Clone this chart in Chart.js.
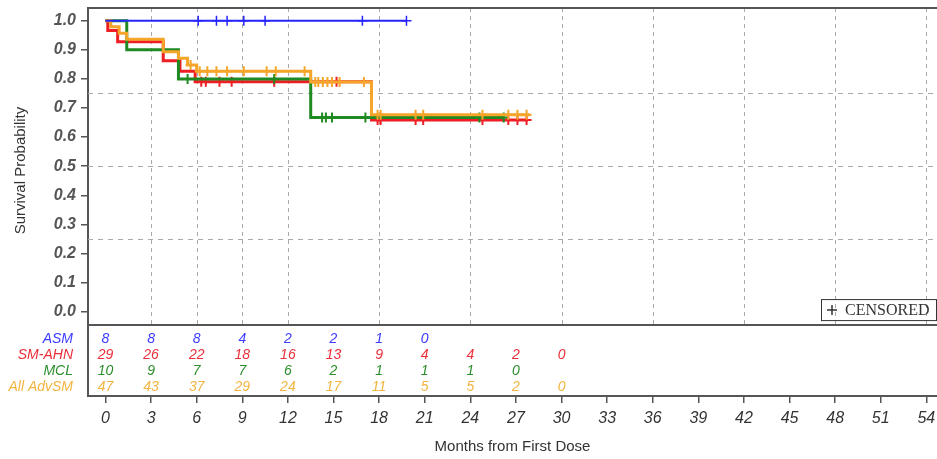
<!DOCTYPE html>
<html>
<head>
<meta charset="utf-8">
<script src="https://cdn.jsdelivr.net/npm/chart.js@4.4.1/dist/chart.umd.min.js"></script>
<style>
  html, body { margin:0; padding:0; background:#fff; }
  #wrap { width:937px; height:459px; }
</style>
</head>
<body>
<div id="wrap"><canvas id="km" width="937" height="459"></canvas></div>
<script>
// KM step curves: month where the estimate changes and the new value
const asmTime = [0, 19.8];
const asmSurv = [1, 1];
const asmCens = [6.1, 7.3, 8.0, 9.1, 10.5, 16.9, 19.8];

const ahnTime = [0, 0.15, 0.8, 3.8, 4.9, 5.9, 17.5, 27.8];
const ahnSurv = [1, 0.966, 0.928, 0.862, 0.826, 0.790, 0.659, 0.659];
const ahnCens = [6.3, 6.6, 7.5, 8.3, 11.1, 15.2, 17.9, 18.1, 20.4, 20.9, 24.8, 26.5, 27.1, 27.7];

const mclTime = [0, 1.4, 4.8, 13.5, 26.2];
const mclSurv = [1, 0.9, 0.8, 0.667, 0.667];
const mclCens = [5.4, 11.1, 14.25, 14.5, 14.9, 17.1, 24.6, 26.2];

const allTime = [0, 0.35, 0.9, 1.4, 3.8, 4.8, 5.4, 6.0, 13.5, 17.5, 27.9];
const allSurv = [1, 0.979, 0.957, 0.936, 0.893, 0.871, 0.848, 0.826, 0.789, 0.677, 0.677];
const allCens = [5.6, 6.2, 6.7, 7.3, 8.0, 9.1, 10.6, 11.2, 13.1, 13.8, 14.0, 14.3, 14.6, 14.9, 15.4, 17.0,
                 17.9, 18.1, 20.4, 20.9, 24.8, 26.5, 27.1, 27.7];

// numbers at risk
const riskTimes = [0, 3, 6, 9, 12, 15, 18, 21, 24, 27, 30];
const riskASM = [8, 8, 8, 4, 2, 2, 1, 0];
const riskAHN = [29, 26, 22, 18, 16, 13, 9, 4, 4, 2, 0];
const riskMCL = [10, 9, 7, 7, 6, 2, 1, 1, 1, 0];
const riskAll = [47, 43, 37, 29, 24, 17, 11, 5, 5, 2, 0];

const xTicks = [0, 3, 6, 9, 12, 15, 18, 21, 24, 27, 30, 33, 36, 39, 42, 45, 48, 51, 54];
const yTicks = [0, 0.1, 0.2, 0.3, 0.4, 0.5, 0.6, 0.7, 0.8, 0.9, 1.0];
const gridX = [3, 6, 9, 12, 18, 24, 30, 36, 42, 48, 54];
const gridY = [0.25, 0.5, 0.75];

const BLUE = '#2424ff', RED = '#ee1e24', GREEN = '#1f8a22', ORANGE = '#f5a52a';
const SANS = "'Liberation Sans', Arial, sans-serif";

const tableTop = -0.046;   // value where the at-risk table starts

function steps(t, s) {
  return t.map((v, i) => ({x: v, y: s[i]}));
}
function valueAt(t, s, x) {
  let v = s[0];
  for (let i = 0; i < t.length; i++) if (t[i] <= x) v = s[i];
  return v;
}
function cens(t, s, c) {
  return c.map(x => ({x: x, y: valueAt(t, s, x)}));
}

function lineDs(data, color, w, ord) {
  return {data: data, showLine: true, stepped: 'before', borderColor: color, borderWidth: w,
          pointRadius: 0, fill: false, order: ord};
}
function censDs(data, color, w, ord) {
  return {data: data, showLine: false, pointStyle: 'cross', pointRadius: 5, borderColor: color,
          backgroundColor: color, pointBorderWidth: w, order: ord};
}

const rows = [
  {name: 'ASM', vals: riskASM, color: '#3b3bff'},
  {name: 'SM-AHN', vals: riskAHN, color: '#ea2f3a'},
  {name: 'MCL', vals: riskMCL, color: '#2b8d2b'},
  {name: 'All AdvSM', vals: riskAll, color: '#f2b440'}
];

const frame = {
  id: 'frame',
  beforeDatasetsDraw(chart) {
    const {ctx, chartArea: a, scales: {x, y}} = chart;
    const sep = y.getPixelForValue(tableTop);
    ctx.save();
    ctx.strokeStyle = '#aaaaaa';
    ctx.lineWidth = 1;
    ctx.setLineDash([4, 4]);
    gridX.forEach(v => {
      const px = Math.round(x.getPixelForValue(v)) + 0.5;
      ctx.beginPath(); ctx.moveTo(px, a.top); ctx.lineTo(px, sep); ctx.stroke();
    });
    ctx.setLineDash([5, 5]);
    gridY.forEach(v => {
      const py = Math.round(y.getPixelForValue(v)) + 0.5;
      ctx.beginPath(); ctx.moveTo(a.left, py); ctx.lineTo(a.right, py); ctx.stroke();
    });
    ctx.restore();
  },
  afterDraw(chart) {
    const {ctx, chartArea: a, scales: {x, y}} = chart;
    const sep = y.getPixelForValue(tableTop);
    ctx.save();
    // box top and table separator
    ctx.strokeStyle = '#555';
    ctx.lineWidth = 2;
    ctx.beginPath(); ctx.moveTo(a.left, a.top); ctx.lineTo(a.right, a.top); ctx.stroke();
    ctx.beginPath(); ctx.moveTo(a.left, sep); ctx.lineTo(a.right, sep); ctx.stroke();

    // at-risk table
    ctx.font = 'italic 14px ' + SANS;
    ctx.textBaseline = 'middle';
    rows.forEach((r, i) => {
      const ry = a.bottom - 9 - (rows.length - 1 - i) * 16;
      ctx.fillStyle = r.color;
      ctx.textAlign = 'right';
      ctx.fillText(r.name, a.left - 15, ry);
      ctx.textAlign = 'center';
      r.vals.forEach((v, j) => ctx.fillText(String(v), x.getPixelForValue(riskTimes[j]), ry));
    });

    // y title, centred on the survival panel
    ctx.save();
    ctx.translate(21, (a.top + sep) / 2 + 4);
    ctx.rotate(-Math.PI / 2);
    ctx.font = '15px ' + SANS;
    ctx.fillStyle = '#333';
    ctx.textAlign = 'center';
    ctx.textBaseline = 'middle';
    ctx.fillText('Survival Probability', 0, 0);
    ctx.restore();

    // censored key
    ctx.font = "16px 'Liberation Serif', 'Times New Roman', serif";
    const bw = 115, bh = 21;
    const bx = a.right - bw - 1, by = sep - 26;
    ctx.strokeStyle = '#333';
    ctx.lineWidth = 1;
    ctx.strokeRect(bx + 0.5, by + 0.5, bw, bh);
    ctx.lineWidth = 1.5;
    ctx.beginPath();
    ctx.moveTo(bx + 6, by + bh / 2 + 0.5); ctx.lineTo(bx + 16, by + bh / 2 + 0.5);
    ctx.moveTo(bx + 11, by + 6); ctx.lineTo(bx + 11, by + bh - 5);
    ctx.stroke();
    ctx.fillStyle = '#333';
    ctx.textAlign = 'left';
    ctx.textBaseline = 'middle';
    ctx.fillText('CENSORED', bx + 24, by + bh / 2 + 1);
    ctx.restore();
  }
};

new Chart(document.getElementById('km'), {
  type: 'scatter',
  data: {
    datasets: [
      lineDs(steps(asmTime, asmSurv), BLUE, 2, 1),
      censDs(cens(asmTime, asmSurv, asmCens), BLUE, 1.5, 1),
      lineDs(steps(allTime, allSurv), ORANGE, 3, 2),
      censDs(cens(allTime, allSurv, allCens), ORANGE, 2, 2),
      lineDs(steps(mclTime, mclSurv), GREEN, 3, 3),
      censDs(cens(mclTime, mclSurv, mclCens), GREEN, 2, 3),
      lineDs(steps(ahnTime, ahnSurv), RED, 3, 4),
      censDs(cens(ahnTime, ahnSurv, ahnCens), RED, 2, 4)
    ]
  },
  options: {
    responsive: false,
    animation: false,
    devicePixelRatio: 1,
    layout: {autoPadding: false, padding: {top: 8, right: 0, left: 0, bottom: 0}},
    plugins: {legend: {display: false}, tooltip: {enabled: false}},
    scales: {
      x: {
        type: 'linear',
        min: -1.15,
        max: 54.7,
        afterBuildTicks: s => { s.ticks = xTicks.map(v => ({value: v})); },
        afterFit: s => { s.height = 63; s.paddingLeft = 0; s.paddingRight = 0; },
        grid: {drawOnChartArea: false, drawTicks: true, tickLength: 7, color: '#555', lineWidth: 1.5},
        border: {display: true, color: '#555', width: 2},
        ticks: {color: '#333', font: {family: SANS, size: 16, style: 'italic'}, padding: 6,
                maxRotation: 0, autoSkip: false},
        title: {display: true, text: 'Months from First Dose', color: '#333',
                font: {family: SANS, size: 15}, padding: {top: 0, bottom: 3}}
      },
      y: {
        type: 'linear',
        min: -0.2897,
        max: 1.0436,
        afterBuildTicks: s => { s.ticks = yTicks.map(v => ({value: v})); },
        afterFit: s => { s.width = 88; s.paddingTop = 0; s.paddingBottom = 0; },
        grid: {drawOnChartArea: false, drawTicks: true, tickLength: 7, color: '#555', lineWidth: 1.5},
        border: {display: true, color: '#555', width: 2},
        ticks: {color: '#555', font: {family: SANS, size: 16, style: 'italic', weight: 'bold'}, padding: 5,
                callback: v => Number(v).toFixed(1)},
        title: {display: false}
      }
    }
  },
  plugins: [frame]
});
</script>
</body>
</html>
